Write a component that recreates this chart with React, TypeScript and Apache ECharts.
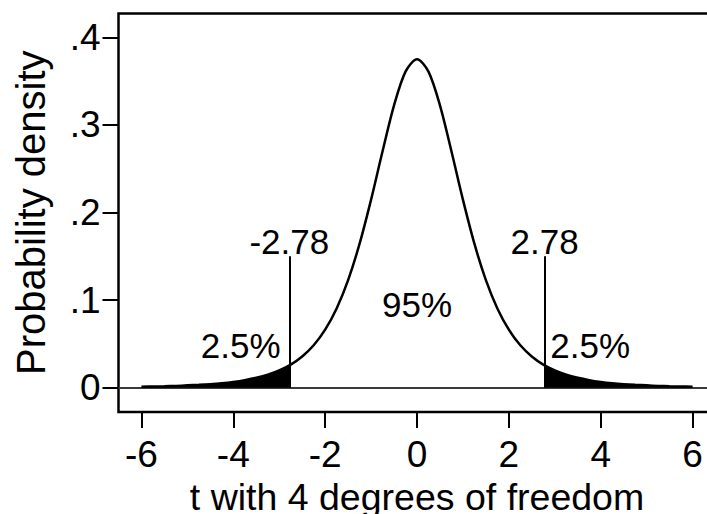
import React, { useEffect, useRef } from "react";
import * as echarts from "echarts";

const tValues = [
  -6, -5.75, -5.5, -5.25, -5, -4.75, -4.5, -4.25, -4, -3.75, -3.5, -3.25, -3, -2.75, -2.5, -2.25,
  -2, -1.75, -1.5, -1.25, -1, -0.75, -0.5, -0.25, 0, 0.25, 0.5, 0.75, 1, 1.25, 1.5, 1.75, 2,
  2.25, 2.5, 2.75, 3, 3.25, 3.5, 3.75, 4, 4.25, 4.5, 4.75, 5, 5.25, 5.5, 5.75, 6,
];
const density = [
  0.0012, 0.0014, 0.0017, 0.0021, 0.0027, 0.0033, 0.0041, 0.0052, 0.0067, 0.0087, 0.0113, 0.0148,
  0.0197, 0.0264, 0.0357, 0.0485, 0.0663, 0.0905, 0.1229, 0.1644, 0.2147, 0.2699, 0.3223, 0.3608,
  0.375, 0.3608, 0.3223, 0.2699, 0.2147, 0.1644, 0.1229, 0.0905, 0.0663, 0.0485, 0.0357, 0.0264,
  0.0197, 0.0148, 0.0113, 0.0087, 0.0067, 0.0052, 0.0041, 0.0033, 0.0027, 0.0021, 0.0017, 0.0014,
  0.0012,
];
const leftTailT = [-6, -5.75, -5.5, -5.25, -5, -4.75, -4.5, -4.25, -4, -3.75, -3.5, -3.25, -3, -2.78];
const leftTailDensity = [
  0.0012, 0.0014, 0.0017, 0.0021, 0.0027, 0.0033, 0.0041, 0.0052, 0.0067, 0.0087, 0.0113, 0.0148,
  0.0197, 0.0255,
];
const rightTailT = [2.78, 3, 3.25, 3.5, 3.75, 4, 4.25, 4.5, 4.75, 5, 5.25, 5.5, 5.75, 6];
const rightTailDensity = [
  0.0255, 0.0197, 0.0148, 0.0113, 0.0087, 0.0067, 0.0052, 0.0041, 0.0033, 0.0027, 0.0021, 0.0017,
  0.0014, 0.0012,
];
const criticalT = [-2.78, 2.78];
const criticalLineTop = 0.15;

const xTicks = [-6, -4, -2, 0, 2, 4, 6];
const yTicks = [0, 0.1, 0.2, 0.3, 0.4];
const yTickLabels = ["0", ".1", ".2", ".3", ".4"];

const annotationText = ["-2.78", "2.78", "95%", "2.5%", "2.5%"];
const annotationX = [-2.78, 2.78, 0, -3.84, 3.77];
const annotationY = [0.1675, 0.1675, 0.095, 0.0487, 0.0487];

const xTitle = "t with 4 degrees of freedom";
const yTitle = "Probability density";

const FONT = "'Liberation Sans', Arial, Helvetica, sans-serif";

export default function App() {
  const ref = useRef<HTMLDivElement>(null);
  useEffect(() => {
    if (!ref.current) return;
    const chart = echarts.init(ref.current, null, { renderer: "svg" });
    const pairs = (xs: number[], ys: number[]) => xs.map((x, i) => [x, ys[i]]);
    const option: any = {
      animation: false,
      backgroundColor: "#ffffff",
      grid: {
        show: true,
        left: 118.5,
        top: 13.5,
        width: 597,
        height: 398.5,
        outerBoundsMode: "none",
        containLabel: false,
        borderColor: "#000",
        borderWidth: 2.5,
        backgroundColor: "transparent",
      },
      xAxis: {
        type: "value",
        min: -6.5,
        max: 6.5,
        axisLine: { show: false, onZero: false },
        splitLine: { show: false },
        axisTick: {
          show: true,
          customValues: xTicks,
          length: 16,
          lineStyle: { color: "#000", width: 2 },
        },
        axisLabel: {
          customValues: xTicks,
          fontSize: 37,
          fontFamily: FONT,
          color: "#000",
          margin: 24,
          formatter: (v: number) => String(v),
        },
        name: xTitle,
        nameLocation: "middle",
        nameGap: 84,
        nameTextStyle: { fontSize: 37.5, fontFamily: FONT, color: "#000", verticalAlign: "middle" },
      },
      yAxis: {
        type: "value",
        min: -0.0277,
        max: 0.4272,
        axisLine: { show: false, onZero: false },
        splitLine: { show: false },
        axisTick: {
          show: true,
          customValues: yTicks,
          length: 16,
          lineStyle: { color: "#000", width: 2 },
        },
        axisLabel: {
          customValues: yTicks,
          fontSize: 37,
          fontFamily: FONT,
          color: "#000",
          margin: 18,
          formatter: (v: number) => {
            const i = yTicks.findIndex((t) => Math.abs(t - v) < 1e-9);
            return i >= 0 ? yTickLabels[i] : "";
          },
        },
        name: yTitle,
        nameLocation: "middle",
        nameGap: 88,
        nameRotate: 90,
        nameTextStyle: { fontSize: 40, fontFamily: FONT, color: "#000", verticalAlign: "middle" },
      },
      series: [
        {
          type: "line",
          data: pairs(leftTailT, leftTailDensity),
          smooth: 0.3,
          symbol: "none",
          lineStyle: { width: 0 },
          areaStyle: { color: "#000", opacity: 1 },
          z: 2,
        },
        {
          type: "line",
          data: pairs(rightTailT, rightTailDensity),
          smooth: 0.3,
          symbol: "none",
          lineStyle: { width: 0 },
          areaStyle: { color: "#000", opacity: 1 },
          z: 2,
        },
        {
          type: "line",
          data: pairs(tValues, density),
          smooth: 0.3,
          symbol: "none",
          lineStyle: { color: "#000", width: 2.5 },
          z: 3,
          markLine: {
            silent: true,
            symbol: "none",
            label: { show: false },
            data: [
              { yAxis: 0, lineStyle: { color: "#3a3a3a", width: 2, type: "solid" } },
              ...criticalT.map((t) => [
                { coord: [t, 0], lineStyle: { color: "#000", width: 2, type: "solid" } },
                { coord: [t, criticalLineTop] },
              ]),
            ],
            z: 1,
          },
        },
        {
          type: "scatter",
          symbolSize: 0,
          itemStyle: { color: "rgba(0,0,0,0)", opacity: 1 },
          z: 5,
          data: annotationText.map((txt, i) => ({
            value: [annotationX[i], annotationY[i]],
            name: txt,
          })),
          label: {
            show: true,
            position: "inside",
            align: "center",
            verticalAlign: "middle",
            fontSize: 35,
            fontFamily: FONT,
            color: "#000",
            opacity: 1,
            textBorderWidth: 0,
            formatter: (p: any) => p.name,
          },
        },
      ],
    };
    chart.setOption(option);
    return () => chart.dispose();
  }, []);
  return (
    <div
      ref={ref}
      style={{ position: "fixed", left: 0, top: 0, width: 730, height: 514, background: "#fff" }}
    />
  );
}
